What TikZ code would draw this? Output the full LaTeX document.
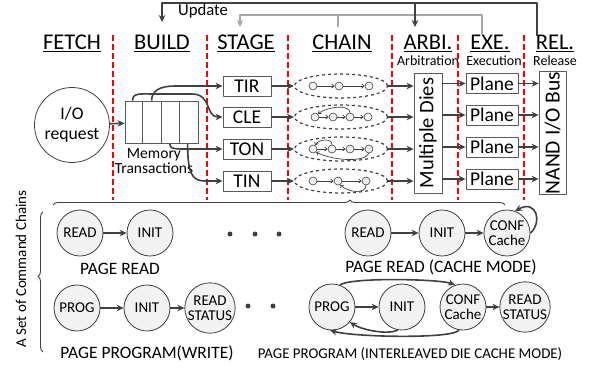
\documentclass[tikz,border=0pt]{standalone}
\usepackage{fontspec}
\setmainfont{Carlito}
\usetikzlibrary{arrows.meta,shapes.geometric,calc,decorations.pathreplacing}
\definecolor{darkg}{RGB}{64,64,64}
\definecolor{lightg}{RGB}{166,166,166}
\definecolor{boxg}{RGB}{90,90,90}
\newcommand{\fs}[2]{\fontsize{#1}{#2}\selectfont}
\begin{document}
\begin{tikzpicture}[x=1pt,y=-1pt,line join=round,
  arr/.style={draw=darkg,line width=1.6pt,-{Stealth[length=7pt,width=6.5pt]}},
  sep/.style={red,line width=1.5pt,dash pattern=on 6pt off 3pt},
  head/.style={font=\fs{22.5}{24}},
  sub/.style={font=\fs{14}{15}},
  box/.style={draw=boxg,line width=0.9pt,minimum width=48pt,minimum height=20pt,inner sep=0pt,font=\fs{19.5}{20}},
  chain/.style={ellipse,draw=darkg,dashed,line width=1.2pt,minimum width=93pt,minimum height=24pt,inner sep=0pt},
  cdot/.style={circle,draw=darkg,fill=gray!12,line width=0.6pt,minimum size=8pt,inner sep=0pt},
  carr/.style={draw=darkg,line width=0.7pt,-{Straight Barb[length=2.5pt,width=4pt]}},
  st/.style={circle,draw=darkg,fill=gray!10,line width=0.8pt,minimum size=46pt,inner sep=0pt,align=center,font=\fs{15}{14.5}},
  lbl/.style={font=\fs{17.4}{18}},
  ddot/.style={circle,fill=darkg,minimum size=5pt,inner sep=0pt},
  brc/.style={draw=darkg,line width=0.9pt,decorate}]
\useasboundingbox (0,0) rectangle (590,370);

\node[head] (fetch) at (72,43) {\underline{FETCH}};
\node[head] (build) at (162,43) {\underline{BUILD}};
\node[head] (stage) at (246,43) {\underline{STAGE}};
\node[head] (chainh) at (342,43) {\underline{CHAIN}};
\node[head] (arbi) at (428,43) {\underline{ARBI.}};
\node[head] (exe) at (490,43) {\underline{EXE.}};
\node[head] (rel) at (555,43) {\underline{REL.}};
\node[sub] (arbis) at (428,61) {Arbitration};
\node[sub] (exes) at (494,61) {Execution};
\node[sub] (rels) at (555,61) {Release};

\foreach \x in {113,207,288,392,458,524}
  \draw[sep] (\x,35) -- (\x,200);

\coordinate (topA) at (0,3);
\coordinate (topB) at (0,15);
\coordinate (updA) at (537,36);
\coordinate (updB) at (162,22);
\coordinate (updC) at (415,27);
\coordinate (updD) at (482,34);
\coordinate (updE) at (240,27);
\coordinate (updF) at (338,27);
\draw[arr,draw=lightg] (updD) -- (updD|-topB) -| (updE);
\draw[draw=lightg,line width=1.6pt] (updF|-topB) -- (updF);
\draw[arr] (updA) -- (updA|-topA) -| (updB);
\draw[arr] (updC|-topA) -- (updC);
\node[font=\fs{16.7}{17}] (upd) at (203,11) {Update};

\node[circle,draw=darkg,line width=0.8pt,minimum size=75pt,inner sep=0pt,align=center,font=\fs{17.7}{20}] (io) at (72,125) {I/O\\request};
\node[draw=boxg,line width=0.8pt,minimum width=73pt,minimum height=42pt,inner sep=0pt] (mem) at (161.5,122) {};
\foreach \i in {1,2,3}
  \draw[boxg,line width=0.8pt] ($(mem.north west)+(\i*18.25,0)$) -- ($(mem.south west)+(\i*18.25,0)$);
\node[font=\fs{15.5}{12},align=center] (memlbl) at (154,161) {Memory\\Transactions};
\draw[arr] (io) -- (mem);

\foreach \n/\t/\y in {tir/TIR/86,cle/CLE/117,ton/TON/149,tin/TIN/181}
  \node[box] (\n) at (247,\y) {\t};
\foreach \i/\y in {1/86,2/117,3/149,4/181}
  \node[chain] (ch\i) at (341,\y) {};
\foreach \n/\i in {tir/1,cle/2,ton/3,tin/4}
  \draw[arr] (\n) -- (ch\i);

\draw[arr] ($(mem.north west)+(27,0)$) .. controls +(0,-10) and (160,86) .. (175,86) -- (tir.west);
\draw[arr] ($(mem.north west)+(8,0)$) .. controls +(0,-8) and (140,94) .. (155,94) -- (192,94) .. controls (212,94) and (205,117) .. (cle.west);
\draw[arr] ($(mem.south west)+(45,0)$) .. controls +(0,6) and (175,149) .. (190,149) -- (ton.west);
\draw[arr] ($(mem.south west)+(63,0)$) .. controls +(0,30) and (192,181) .. (205,181) -- (tin.west);

\node[cdot] (ra1) at (313,86) {};
\node[cdot] (ra2) at (339,86) {};
\node[cdot] (ra3) at (369,86) {};
\draw[carr] (ra1) -- (ra2);
\draw[carr] (ra2) -- (ra3);
\node[cdot] (rb1) at (315,117) {};
\node[cdot] (rb2) at (333,117) {};
\node[cdot] (rb3) at (350,117) {};
\node[cdot] (rb4) at (368,117) {};
\draw[carr] (rb1) -- (rb2);
\draw[carr] (rb2) -- (rb3);
\draw[carr] (rb3) -- (rb4);
\draw[carr] (rb3.north) .. controls +(0,-9) and +(8,-7) .. (rb1.45);
\node[cdot] (rc1) at (313,149) {};
\node[cdot] (rc2) at (332,149) {};
\node[cdot] (rc3) at (350,149) {};
\node[cdot] (rc4) at (369,149) {};
\draw[carr] (rc1) -- (rc2);
\draw[carr] (rc2) -- (rc3);
\draw[carr] (rc3) -- (rc4);
\draw[carr] (rc2.north) .. controls +(0,-7) and +(3,-6) .. (rc1.60);
\draw[carr] (rc4.south) .. controls +(-5,10) and +(15,8) .. (rc1.-45);
\node[cdot] (rd1) at (313,181) {};
\node[cdot] (rd2) at (338,181) {};
\node[cdot] (rd3) at (366,181) {};
\draw[carr] (rd1) -- (rd2);
\draw[carr] (rd2) -- (rd3);
\draw[carr] (rd3.south) .. controls +(0,9) and +(8,8) .. (rd2.-60);

\node[box,rotate=90,minimum width=120pt,minimum height=28pt,font=\fs{20.5}{21}] (dies) at (428,133) {Multiple Dies};
\foreach \i/\y in {1/83.5,2/115,3/147,4/179}
  \node[box,minimum width=52pt] (p\i) at (492,\y) {Plane};
\node[box,rotate=90,minimum width=120pt,minimum height=27pt,font=\fs{21.5}{22}] (nand) at (552.5,133) {NAND I/O Bus};
\foreach \i in {1,...,4}{
  \draw[arr] (ch\i.east) -- (ch\i.east-|dies.north);
  \draw[arr] (p\i.west-|dies.south) -- (p\i.west);
  \draw[arr] (p\i.east) -- (p\i.east-|nand.north);
}

\draw[brc,decoration={brace,amplitude=5pt,aspect=0.657}] (53,205) -- (505,205);
\draw[brc,decoration={brace,amplitude=5pt,aspect=0.54}] (43,352) -- (43,212);
\node[rotate=90,font=\fs{15}{15}] (setlbl) at (21,269) {A Set of Command Chains};

\node[st] (pr1) at (80,233) {READ};
\node[st] (pr2) at (150,233) {INIT};
\draw[arr] (pr1) -- (pr2);
\foreach \x in {230,255,279}
  \node[ddot] (da\x) at (\x,234) {};
\node[lbl] (prl) at (120,269) {PAGE READ};

\node[st] (cr1) at (368,233) {READ};
\node[st] (cr2) at (442,233) {INIT};
\node[st] (cr3) at (507,233) {CONF\\Cache};
\draw[arr] (cr1) -- (cr2);
\draw[arr] (cr2) -- (cr3);
\draw[arr] (cr3.east) .. controls +(12,-10) and +(22,-12) .. (cr3.70);
\node[lbl] (crl) at (441,267) {PAGE READ (CACHE MODE)};

\node[st] (pw1) at (77,308) {PROG};
\node[st] (pw2) at (147,308) {INIT};
\node[st] (pw3) at (210,308) {READ\\STATUS};
\draw[arr] (pw1) -- (pw2);
\draw[arr] (pw2) -- (pw3);
\foreach \x in {248,273}
  \node[ddot] (db\x) at (\x,306) {};
\node[lbl] (pwl) at (147,353) {PAGE PROGRAM(WRITE)};

\node[st] (pi1) at (332,307) {PROG};
\node[st] (pi2) at (402,307) {INIT};
\node[st] (pi3) at (463,307) {CONF\\Cache};
\node[st] (pi4) at (525,307) {READ\\STATUS};
\draw[arr] (pi1) -- (pi2);
\draw[arr] (pi3) -- (pi4);
\draw[arr] (pi1.70) .. controls +(10,-8) and +(-15,-6) .. (pi3.110);
\draw[arr] (pi3.-100) .. controls +(-5,9) and +(25,7) .. (pi1.-95);
\draw[arr] (pi2.-100) .. controls +(-10,5) and +(12,8) .. (pi1.-40);
\node[font=\fs{14.9}{15}] (pil) at (410,354) {PAGE PROGRAM (INTERLEAVED DIE CACHE MODE)};
\end{tikzpicture}
\end{document}
